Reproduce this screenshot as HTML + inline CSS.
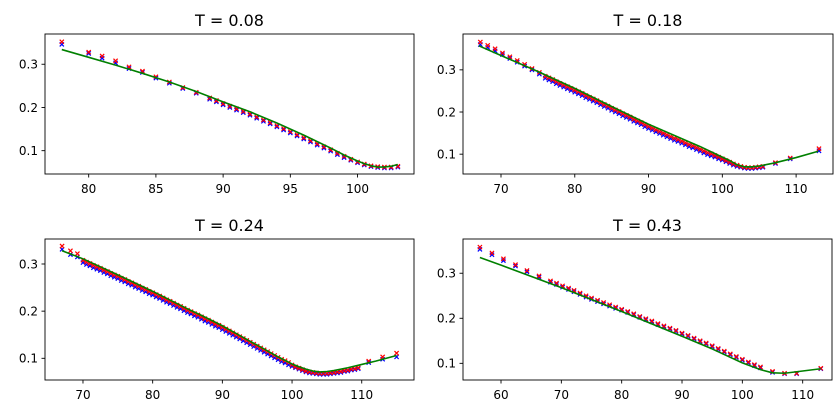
<!DOCTYPE html>
<html><head><meta charset="utf-8"><style>
html,body{margin:0;padding:0;background:#fff}
svg{display:block;font-family:"DejaVu Sans","Liberation Sans",sans-serif}
</style></head><body>
<svg id="fig" width="840" height="408" viewBox="0 0 840 408" xmlns="http://www.w3.org/2000/svg"></svg>
<script>
// Panel 1: T = 0.08
const p1X = [78,80,81,82,83,84,85,86,87,88,89,89.5,90,90.5,91,91.5,92,92.5,93,93.5,94,94.5,95,95.5,96,96.5,97,97.5,98,98.5,99,99.5,100,100.5,101,101.5,102,102.5,103];
const p1Red = [.352,.328,.319,.308,.294,.284,.271,.259,.246,.235,.222,.216,.209,.203,.197,.191,.185,.178,.171,.165,.158,.151,.144,.137,.130,.123,.116,.109,.102,.094,.087,.080,.074,.069,.065,.063,.062,.062,.064];
const p1Blue = [.346,.325,.314,.303,.290,.281,.268,.256,.244,.233,.219,.213,.206,.200,.194,.188,.182,.175,.168,.162,.155,.148,.141,.134,.127,.120,.113,.106,.099,.091,.084,.078,.072,.067,.063,.061,.060,.060,.062];
const p1LineX = [78,80,82,84,86,88,90,92,94,96,98,99,100,100.5,101,101.5,102,102.5,103];
const p1LineY = [.334,.316,.298,.279,.259,.237,.213,.190,.164,.136,.106,.090,.076,.070,.065,.062,.062,.064,.068];
const p1XTicks = [80,85,90,95,100];
const p1YTicks = [0.1,0.2,0.3];

// Panel 2: T = 0.18
const p2X = [67.2,68.2,69.2,70.2,71.2,72.2,73.2,74.2,75.2,
76,76.5,77,77.5,78,78.5,79,79.5,80,80.5,81,81.5,82,82.5,83,83.5,84,84.5,85,85.5,86,86.5,87,87.5,88,88.5,89,89.5,90,90.5,91,91.5,92,92.5,93,93.5,94,94.5,95,95.5,96,96.5,97,97.5,98,98.5,99,99.5,100,100.5,101,101.5,102,102.5,103,103.5,104,104.5,105,105.5,
107.2,109.2,113.1];
const p2Red = [.366,.358,.350,.340,.331,.322,.313,.303,.294,
.285,.281,.277,.272,.268,.264,.260,.256,.252,.248,.244,.239,.235,.231,.227,.222,.218,.214,.209,.205,.201,.196,.192,.188,.183,.179,.175,.170,.166,.162,.158,.154,.150,.146,.142,.138,.135,.131,.127,.123,.120,.116,.112,.108,.104,.101,.097,.093,.089,.085,.081,.077,.074,.071,.069,.068,.068,.069,.070,.071,
.080,.091,.113];
const p2Blue = [.360,.353,.345,.336,.327,.318,.309,.300,.290,
.280,.276,.272,.267,.263,.259,.255,.251,.247,.243,.239,.234,.230,.226,.222,.217,.213,.209,.204,.200,.196,.191,.187,.183,.178,.174,.170,.165,.161,.157,.153,.149,.145,.141,.137,.133,.130,.126,.122,.118,.115,.111,.107,.103,.099,.096,.093,.089,.086,.082,.078,.074,.071,.069,.067,.066,.066,.067,.068,.069,
.078,.089,.108];
const p2LineX = [67,70,75,78,80,85,90,95,97,100,101,102,103,104,105,107,110,113];
const p2LineY = [.357,.334,.296,.272,.256,.213,.171,.133,.118,.093,.085,.075,.070,.070,.072,.079,.092,.107];
const p2XTicks = [70,80,90,100,110];
const p2YTicks = [0.1,0.2,0.3];

// Panel 3: T = 0.24
const p3X = [67,68.2,69.2,
70,70.5,71,71.5,72,72.5,73,73.5,74,74.5,75,75.5,76,76.5,77,77.5,78,78.5,79,79.5,80,80.5,81,81.5,82,82.5,83,83.5,84,84.5,85,85.5,86,86.5,87,87.5,88,88.5,89,89.5,90,90.5,91,91.5,92,92.5,93,93.5,94,94.5,95,95.5,96,96.5,97,97.5,98,98.5,99,99.5,100,100.5,101,101.5,102,102.5,103,103.5,104,104.5,105,105.5,106,106.5,107,107.5,108,108.5,109,109.5,
111,113,115];
const p3Red = [.338,.328,.322,
.308,.304,.301,.297,.294,.291,.287,.284,.280,.277,.274,.270,.267,.263,.260,.256,.253,.249,.246,.242,.239,.235,.232,.228,.224,.221,.217,.213,.210,.206,.202,.199,.195,.192,.188,.184,.181,.177,.173,.170,.166,.162,.158,.154,.150,.146,.142,.138,.134,.130,.126,.122,.118,.114,.110,.106,.102,.098,.095,.091,.086,.082,.079,.076,.073,.071,.070,.069,.068,.068,.068,.069,.070,.071,.072,.074,.075,.077,.078,.080,
.094,.103,.111];
const p3Blue = [.331,.320,.315,
.303,.299,.296,.292,.289,.286,.282,.279,.275,.272,.269,.265,.262,.258,.255,.251,.248,.244,.241,.237,.234,.230,.227,.223,.219,.216,.212,.208,.205,.201,.197,.194,.190,.187,.183,.179,.176,.172,.168,.165,.161,.157,.153,.149,.145,.141,.137,.133,.129,.125,.121,.117,.113,.109,.105,.101,.097,.093,.090,.086,.083,.080,.077,.074,.071,.069,.068,.067,.066,.066,.066,.067,.068,.069,.070,.072,.073,.075,.076,.078,
.091,.098,.103];
const p3LineX = [67,70,72.5,75,80,85,87,90,94,95,98,100,101,102,103,104,105,106,108,110,112,115];
const p3LineY = [.328,.311,.294,.277,.242,.205,.191,.169,.136,.128,.103,.088,.082,.077,.073,.071,.072,.074,.080,.087,.094,.106];
const p3XTicks = [70,80,90,100,110];
const p3YTicks = [0.1,0.2,0.3];

// Panel 4: T = 0.43
const p4X = [56.5,58.5,60.4,62.4,64.3,66.3,68.2,69.2,70.2,71.2,72.1,73.1,74.1,75,76,77,78,79,80,81,82,83,84,85,86,87,88,89,90,91,92,93,94,95,96,97,98,99,100,101,102,103,105,107,109,113];
const p4Red = [.358,.345,.332,.319,.306,.294,.283,.278,.272,.267,.262,.256,.250,.245,.240,.235,.230,.225,.220,.215,.210,.204,.199,.194,.188,.183,.178,.173,.167,.162,.156,.150,.145,.139,.133,.127,.121,.115,.109,.103,.097,.092,.082,.078,.078,.089];
const p4Blue = [.353,.341,.328,.316,.303,.291,.280,.275,.269,.264,.259,.253,.247,.242,.237,.232,.227,.222,.218,.213,.208,.202,.197,.192,.186,.181,.176,.171,.165,.160,.154,.148,.143,.137,.131,.125,.119,.113,.107,.101,.095,.090,.080,.077,.077,.088];
const p4LineX = [56.5,60,70,80,90,95,100,103,105,107,110,113];
const p4LineY = [.335,.318,.268,.215,.160,.132,.101,.086,.079,.078,.083,.088];
const p4XTicks = [60,70,80,90,100,110];
const p4YTicks = [0.1,0.2,0.3];

const NS = 'http://www.w3.org/2000/svg';
const svg = document.getElementById('fig');
function mk(tag, attrs, parent){
  const e = document.createElementNS(NS, tag);
  for (const k in attrs) e.setAttribute(k, attrs[k]);
  (parent||svg).appendChild(e);
  return e;
}
function panel(id, title, box, xlim, ylim, xs, red, blue, lx, ly, xt, yt){
  const g = mk('g', {});
  
  
  const sx = v => box.x0 + (v - xlim[0]) / (xlim[1] - xlim[0]) * (box.x1 - box.x0);
  const sy = v => box.y1 - (v - ylim[0]) / (ylim[1] - ylim[0]) * (box.y1 - box.y0);
  const t = mk('text', {x:(box.x0+box.x1)/2, y:box.y0-8, 'text-anchor':'middle', 'font-size':16, fill:'#000'}, g);
  t.textContent = title;
  
  
  const frame = mk('rect', {x:box.x0, y:box.y0, width:box.x1-box.x0, height:box.y1-box.y0, fill:'#fff', stroke:'none'}, g);
  
  
  const marks = mk('g', {}, g);
  
  
  function cross(x, y, col){
    const px = sx(x), py = sy(y), r = 2.1;
    const p = mk('path', {d:`M${px-r},${py-r}L${px+r},${py+r}M${px-r},${py+r}L${px+r},${py-r}`, stroke:col, 'stroke-width':1.2, fill:'none'}, marks);
    
    
  }
  for (let i = 0; i < xs.length; i++) cross(xs[i], blue[i], '#0000ff');
  for (let i = 0; i < xs.length; i++) cross(xs[i], red[i], '#ff0000');
  let d = '';
  for (let i = 0; i < lx.length; i++) d += (i ? 'L' : 'M') + sx(lx[i]).toFixed(2) + ',' + sy(ly[i]).toFixed(2);
  const line = mk('path', {d:d, stroke:'#008000', 'stroke-width':1.6, fill:'none', 'stroke-linejoin':'round'}, marks);
  
  
  const border = mk('rect', {x:box.x0, y:box.y0, width:box.x1-box.x0, height:box.y1-box.y0, fill:'none', stroke:'#000', 'stroke-width':0.9}, g);
  
  
  for (const v of xt){
    const px = sx(v);
    const tk = mk('line', {x1:px, x2:px, y1:box.y1, y2:box.y1+3.5, stroke:'#000', 'stroke-width':0.9}, g);
    
    
    const lb = mk('text', {x:px, y:box.y1+19, 'text-anchor':'middle', 'font-size':12, fill:'#000'}, g);
    lb.textContent = String(v);
    
    
  }
  for (const v of yt){
    const py = sy(v);
    const tk = mk('line', {x1:box.x0-3.5, x2:box.x0, y1:py, y2:py, stroke:'#000', 'stroke-width':0.9}, g);
    
    
    const lb = mk('text', {x:box.x0-7, y:py+4.3, 'text-anchor':'end', 'font-size':12, fill:'#000'}, g);
    lb.textContent = v.toFixed(1);
    
    
  }
}
panel('panel-t-0-08', 'T = 0.08', {x0:45,x1:414,y0:34,y1:174}, [76.75,104.2], [0.046,0.370], p1X, p1Red, p1Blue, p1LineX, p1LineY, p1XTicks, p1YTicks);
panel('panel-t-0-18', 'T = 0.18', {x0:463,x1:833,y0:34,y1:174}, [64.85,115.0], [0.053,0.385], p2X, p2Red, p2Blue, p2LineX, p2LineY, p2XTicks, p2YTicks);
panel('panel-t-0-24', 'T = 0.24', {x0:45,x1:414,y0:239,y1:380}, [64.55,117.5], [0.054,0.353], p3X, p3Red, p3Blue, p3LineX, p3LineY, p3XTicks, p3YTicks);
panel('panel-t-0-43', 'T = 0.43', {x0:463,x1:832,y0:239,y1:380}, [53.7,114.86], [0.063,0.376], p4X, p4Red, p4Blue, p4LineX, p4LineY, p4XTicks, p4YTicks);
</script>
</body></html>
